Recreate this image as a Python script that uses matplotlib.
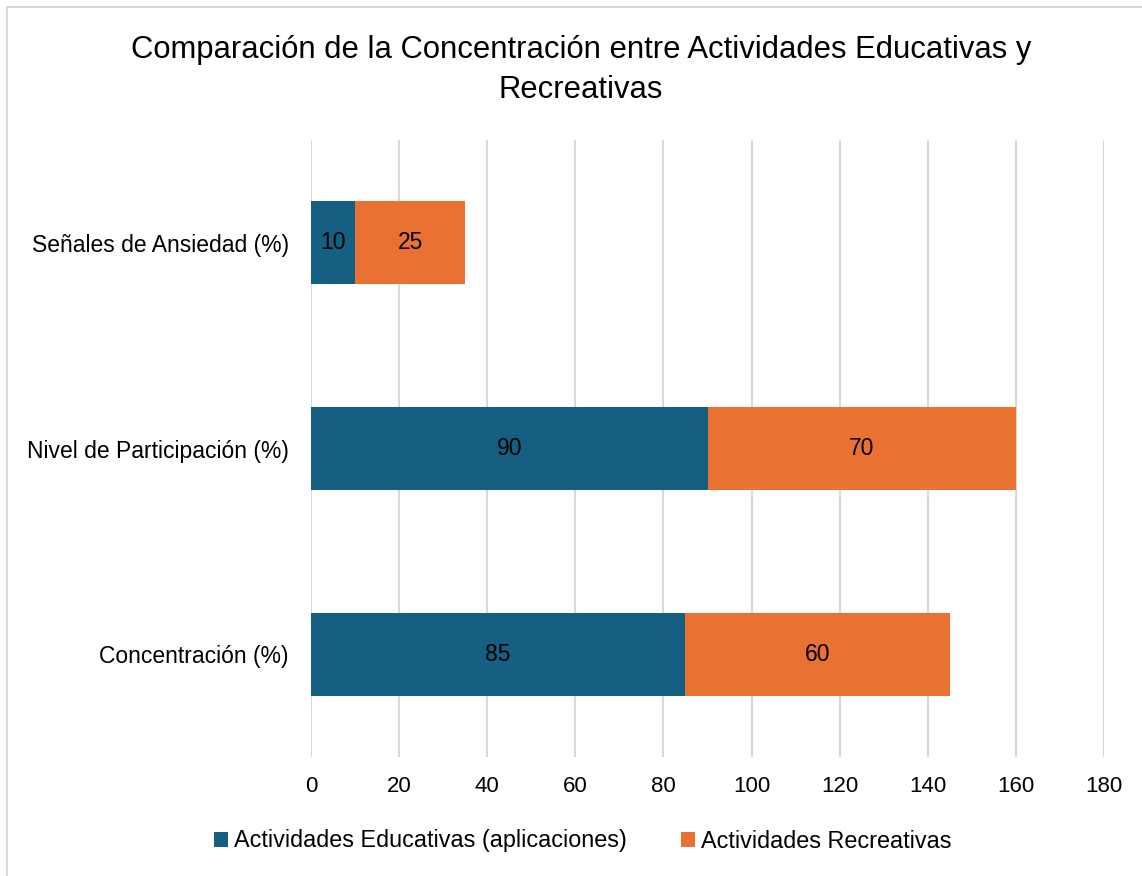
import matplotlib
matplotlib.use("Agg")
import matplotlib.pyplot as plt
from matplotlib.patches import Rectangle

categories = ["Concentración (%)", "Nivel de Participación (%)", "Señales de Ansiedad (%)"]
educativas = [85, 90, 10]
recreativas = [60, 70, 25]
series_names = ["Actividades Educativas (aplicaciones)", "Actividades Recreativas"]
title = "Comparación de la Concentración entre Actividades Educativas y\nRecreativas"
xticks = [0, 20, 40, 60, 80, 100, 120, 140, 160, 180]

plt.rcParams['font.family'] = ['Liberation Sans', 'DejaVu Sans']

W, H = 1142, 876
fig = plt.figure(figsize=(W / 100, H / 100), dpi=100)
fig.patches.append(Rectangle((7 / W, -0.1), 1.2, 1 - 7 / H + 0.1, transform=fig.transFigure,
                             fill=False, edgecolor='#d9d9d9', linewidth=1.5))

ax = fig.add_axes([311 / W, 1 - 757 / H, (1104 - 311) / W, (757 - 140) / H])
c1, c2 = '#156082', '#E97132'
y = range(len(categories))
b1 = ax.barh(y, educativas, height=0.405, color=c1, label=series_names[0], zorder=3)
b2 = ax.barh(y, recreativas, left=educativas, height=0.405, color=c2, label=series_names[1], zorder=3)
for bars, vals in ((b1, educativas), (b2, recreativas)):
    for r, v in zip(bars, vals):
        ax.text(r.get_x() + r.get_width() / 2, r.get_y() + r.get_height() / 2, str(v),
                ha='center', va='center', fontsize=16.5, color='black', zorder=4)

ax.set_xlim(0, 180)
ax.set_ylim(-0.5, 2.5)
ax.set_xticks(xticks)
ax.set_yticks(list(y))
ax.set_yticklabels(categories)
ax.tick_params(axis='both', length=0, colors='#000000')
ax.tick_params(axis='x', pad=14, labelsize=16)
ax.tick_params(axis='y', pad=16, labelsize=16.5)
ax.grid(axis='x', color='#d9d9d9', linewidth=1.5, zorder=0)
for s in ax.spines.values():
    s.set_visible(False)

fig.text(581 / W, 1 - 70 / H, title, ha='center', va='center', fontsize=22.3, linespacing=1.45)

leg = fig.legend(handles=[b1, b2], labels=series_names, loc='center', bbox_to_anchor=(583 / W, 1 - 841 / H),
                 ncol=2, frameon=False, fontsize=16.8, handlelength=0.6, handleheight=0.6,
                 handletextpad=0.26, columnspacing=2.3)

fig.savefig("out.png", dpi=100)
